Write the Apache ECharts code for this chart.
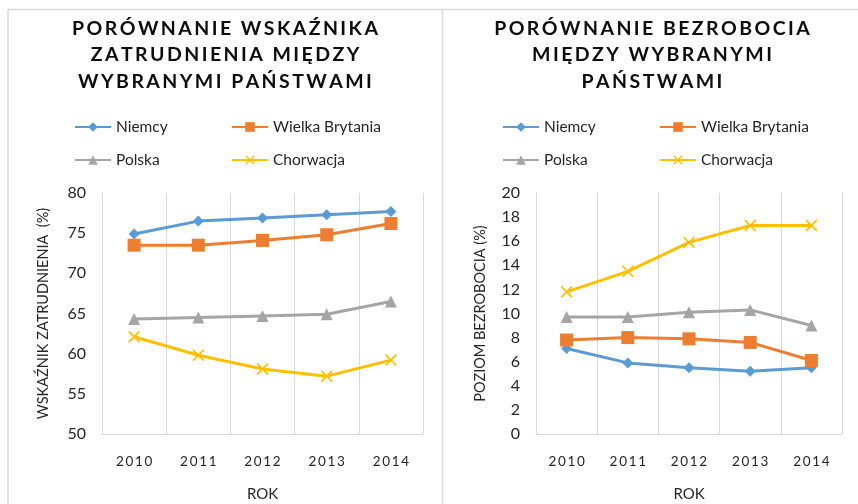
<!DOCTYPE html>
<html>
<head>
<meta charset="utf-8">
<script src="https://cdn.jsdelivr.net/npm/echarts@6/dist/echarts.min.js"></script>
<style>
  html, body { margin: 0; padding: 0; background: #fff; }
  #main { width: 858px; height: 504px; }
</style>
</head>
<body>
<div id="main"></div>
<script>
// dane
var lata = ['2010', '2011', '2012', '2013', '2014'];
var kraje = ['Niemcy', 'Wielka Brytania', 'Polska', 'Chorwacja'];

// wskaznik zatrudnienia (%)
var zatrNiemcy = [74.9, 76.5, 76.9, 77.3, 77.7];
var zatrWB = [73.5, 73.5, 74.1, 74.8, 76.2];
var zatrPolska = [64.3, 64.5, 64.7, 64.9, 66.5];
var zatrChorwacja = [62.1, 59.8, 58.1, 57.2, 59.2];

// poziom bezrobocia (%)
var bezrNiemcy = [7.1, 5.9, 5.5, 5.2, 5.5];
var bezrWB = [7.8, 8.0, 7.9, 7.6, 6.1];
var bezrPolska = [9.7, 9.7, 10.1, 10.3, 9.0];
var bezrChorwacja = [11.8, 13.5, 15.9, 17.3, 17.3];

var kolory = ['#5B9BD5', '#ED7D31', '#A5A5A5', '#FFC000'];
var symbole = [
  'diamond',
  'rect',
  'triangle',
  'path://M0,1L1,0L5,4L9,0L10,1L6,5L10,9L9,10L5,6L1,10L0,9L4,5Z'
];
var rozmiary = [11, 13, 12, 12];

var czcionka = 'Lato, "Open Sans", sans-serif';
var szary = '#d9d9d9';

// rozstrzelony tekst (jak w Excelu)
function rozstrzel(s, sep) {
  return s.split('\n').map(function (line) {
    return line.split('').join(sep);
  }).join('\n');
}

function seria(nazwa, i, dane, idx) {
  return {
    name: nazwa,
    type: 'line',
    xAxisIndex: idx,
    yAxisIndex: idx,
    data: dane,
    symbol: symbole[i],
    symbolSize: rozmiary[i],
    showSymbol: true,
    lineStyle: { width: 3, color: kolory[i] },
    itemStyle: { color: kolory[i] },
    animation: false
  };
}

function legendy(left0, left1) {
  var wspolne = {
    orient: 'vertical',
    top: 119,
    padding: 0,
    itemWidth: 36,
    itemHeight: 12,
    itemGap: 17,
    textStyle: { fontFamily: czcionka, fontSize: 15.5, color: '#262626' }
  };
  return [
    Object.assign({ left: left0, data: [kraje[0], kraje[2]] }, wspolne),
    Object.assign({ left: left1, data: [kraje[1], kraje[3]] }, wspolne)
  ];
}

function osX(idx) {
  return {
    type: 'category',
    gridIndex: idx,
    data: lata,
    boundaryGap: true,
    name: 'ROK',
    nameLocation: 'middle',
    nameGap: 53,
    nameTextStyle: { fontFamily: czcionka, fontSize: 15, color: '#262626' },
    axisLine: { show: true, lineStyle: { color: szary, width: 1 } },
    axisTick: { show: false },
    splitLine: { show: true, lineStyle: { color: szary, width: 1 } },
    axisLabel: {
      margin: 21,
      fontFamily: czcionka,
      fontSize: 13.5,
      color: '#262626',
      formatter: function (v) { return rozstrzel(v, '\u2009'); }
    }
  };
}

function osY(idx, min, max, interval, nazwa, gap) {
  return {
    type: 'value',
    gridIndex: idx,
    min: min,
    max: max,
    interval: interval,
    name: nazwa,
    nameLocation: 'middle',
    nameGap: gap,
    nameTextStyle: { fontFamily: czcionka, fontSize: 14.5, color: '#262626' },
    axisLine: { show: true, lineStyle: { color: szary, width: 1 } },
    axisTick: { show: false },
    splitLine: { show: false },
    axisLabel: { margin: 16, fontFamily: czcionka, fontSize: 16, color: '#262626' }
  };
}

var tytulStyl = {
  fontFamily: czcionka,
  fontSize: 19.5,
  fontWeight: 'bold',
  color: '#0d0d0d',
  lineHeight: 26.5
};

var option = {
  backgroundColor: '#fff',
  animation: false,
  title: [
    {
      text: rozstrzel('PORÓWNANIE WSKAŹNIKA\nZATRUDNIENIA MIĘDZY\nWYBRANYMI PAŃSTWAMI', '\u2009'),
      left: 225, top: 15, textAlign: 'center', padding: 0,
      textStyle: tytulStyl
    },
    {
      text: rozstrzel('PORÓWNANIE BEZROBOCIA\nMIĘDZY WYBRANYMI\nPAŃSTWAMI', '\u2009'),
      left: 652, top: 15, textAlign: 'center', padding: 0,
      textStyle: tytulStyl
    }
  ],
  legend: legendy(74, 231).concat(legendy(502, 659)),
  grid: [
    { left: 102, top: 193, width: 321, height: 241, outerBoundsMode: 'none' },
    { left: 536, top: 193, width: 306, height: 241, outerBoundsMode: 'none' }
  ],
  xAxis: [osX(0), osX(1)],
  yAxis: [
    osY(0, 50, 80, 5, 'WSKAŹNIK ZATRUDNIENIA  (%)', 51),
    osY(1, 0, 20, 2, 'POZIOM BEZROBOCIA (%)', 48)
  ],
  series: [
    seria(kraje[0], 0, zatrNiemcy, 0),
    seria(kraje[1], 1, zatrWB, 0),
    seria(kraje[2], 2, zatrPolska, 0),
    seria(kraje[3], 3, zatrChorwacja, 0),
    seria(kraje[0], 0, bezrNiemcy, 1),
    seria(kraje[1], 1, bezrWB, 1),
    seria(kraje[2], 2, bezrPolska, 1),
    seria(kraje[3], 3, bezrChorwacja, 1)
  ],
  // ramki obu wykresow
  graphic: [
    { type: 'line', silent: true, shape: { x1: 8, y1: 9.5, x2: 858, y2: 9.5 }, style: { stroke: szary, lineWidth: 1.5 } },
    { type: 'line', silent: true, shape: { x1: 8, y1: 9.5, x2: 8, y2: 504 }, style: { stroke: szary, lineWidth: 1.5 } },
    { type: 'line', silent: true, shape: { x1: 442.5, y1: 9.5, x2: 442.5, y2: 504 }, style: { stroke: szary, lineWidth: 1.5 } }
  ]
};

var myChart = echarts.init(document.getElementById('main'), null, { renderer: 'canvas' });
myChart.setOption(option);
</script>
</body>
</html>
